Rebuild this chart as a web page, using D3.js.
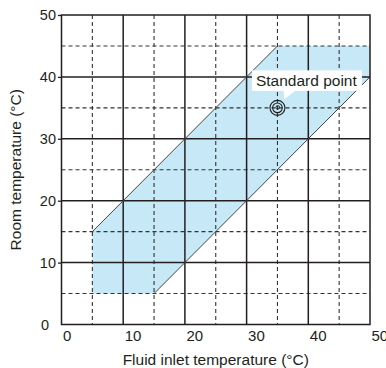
<!DOCTYPE html>
<html><head><meta charset="utf-8">
<script src="https://cdn.jsdelivr.net/npm/d3@7"></script>
<style>
html,body{margin:0;padding:0;background:#fff;}
svg{display:block;font-family:"Liberation Sans",Arial,sans-serif;}
</style></head>
<body>
<svg id="chart" width="386" height="368"></svg>
<script>
const xTicks = [0, 10, 20, 30, 40, 50];
const yTicks = [0, 10, 20, 30, 40, 50];
const minorTicks = [5, 15, 25, 35, 45];
const regionX = [5, 15, 50, 50, 35, 5];
const regionY = [5, 5, 40, 45, 45, 15];
const pointX = [35];
const pointY = [35];
const pointLabel = ["Standard point"];
const xTitle = "Fluid inlet temperature (\u00B0C)";
const yTitle = "Room temperature (\u00B0C)";

const svg = d3.select("#chart");
const L = 61.5, R = 370, T = 15, B = 324.5;
const x = d3.scaleLinear().domain([0, 50]).range([L, R]);
const y = d3.scaleLinear().domain([0, 50]).range([B, T]);
const ink = "#231f20";

// region fill
const pts = regionX.map((v, i) => [x(v), y(regionY[i])]);
svg.append("polygon").attr("points", pts.map(p => p.join(",")).join(" "))
  .attr("fill", "#c6e8f7").attr("stroke", "none");

// dashed grid
const g = svg.append("g");
minorTicks.forEach(t => {
  g.append("line").attr("x1", x(t)).attr("x2", x(t)).attr("y1", T).attr("y2", B)
    .attr("stroke", "#333").attr("stroke-width", 1.1).attr("stroke-dasharray", "4,3");
  g.append("line").attr("x1", L).attr("x2", R).attr("y1", y(t)).attr("y2", y(t))
    .attr("stroke", "#333").attr("stroke-width", 1.1).attr("stroke-dasharray", "4,3");
});
// solid grid
xTicks.filter(t => t > 0 && t < 50).forEach(t => {
  g.append("line").attr("x1", x(t)).attr("x2", x(t)).attr("y1", T).attr("y2", B)
    .attr("stroke", ink).attr("stroke-width", 1.5);
});
yTicks.filter(t => t > 0 && t < 50).forEach(t => {
  g.append("line").attr("x1", L).attr("x2", R).attr("y1", y(t)).attr("y2", y(t))
    .attr("stroke", ink).attr("stroke-width", 1.5);
});

// diagonal edges of region
for (let i = 0; i < regionX.length; i++) {
  const j = (i + 1) % regionX.length;
  if (regionX[i] !== regionX[j] && regionY[i] !== regionY[j]) {
    svg.append("line").attr("x1", x(regionX[i])).attr("y1", y(regionY[i]))
      .attr("x2", x(regionX[j])).attr("y2", y(regionY[j]))
      .attr("stroke", "#444").attr("stroke-width", 1);
  }
}

// border
svg.append("rect").attr("x", L).attr("y", T).attr("width", R - L).attr("height", B - T)
  .attr("fill", "none").attr("stroke", ink).attr("stroke-width", 1.5);

// axes
const yAxis = d3.axisLeft(y).tickValues(yTicks).tickSize(3.5).tickPadding(2).tickFormat(d3.format("d"));
const ya = svg.append("g").attr("transform", `translate(${L},0)`).call(yAxis);
ya.select(".domain").remove();
ya.selectAll(".tick line").attr("stroke", ink).attr("stroke-width", 1.3)
  .filter(d => d === 0).remove();
ya.selectAll(".tick text").attr("fill", ink).style("font-size", "14.5px")
  .attr("font-family", "Liberation Sans, Arial, sans-serif")
  .attr("dx", d => d === 0 ? -7 : 0);

const xAxis = d3.axisBottom(x).tickValues(xTicks).tickSize(0).tickPadding(0).tickFormat(d3.format("d"));
const xa = svg.append("g").attr("transform", `translate(0,${B})`).call(xAxis);
xa.select(".domain").remove();
xa.selectAll(".tick text").attr("fill", ink).style("font-size", "15px")
  .attr("font-family", "Liberation Sans, Arial, sans-serif")
  .attr("text-anchor", "start").attr("x", 1).attr("y", 16.3).attr("dy", 0);

// titles
svg.append("text").attr("x", (L + R) / 2).attr("y", 364.5).attr("text-anchor", "middle")
  .attr("fill", ink).style("font-size", "15.5px").text(xTitle);
svg.append("text").attr("transform", `translate(21,${(T + B) / 2}) rotate(-90)`)
  .attr("text-anchor", "middle").attr("fill", ink).style("font-size", "15.5px").text(yTitle);

// standard point
pointX.forEach((px, i) => {
  const cx = x(px), cy = y(pointY[i]);
  [7.5, 4.8].forEach(r => svg.append("circle").attr("cx", cx).attr("cy", cy).attr("r", r)
    .attr("fill", "none").attr("stroke", ink).attr("stroke-width", 1.1));
  svg.append("circle").attr("cx", cx + 0.3).attr("cy", cy - 0.5).attr("r", 1.8)
    .attr("fill", "none").attr("stroke", ink).attr("stroke-width", 0.9);
  // callout
  const bx = cx - 25.5, by = cy - 37.5, bw = 110, bh = 20.5;
  svg.append("polygon")
    .attr("points", `${cx + 6},${by + bh - 1} ${cx + 19},${by + bh - 1} ${cx + 7},${cy - 8.5}`)
    .attr("fill", "#fff");
  svg.append("rect").attr("x", bx).attr("y", by).attr("width", bw).attr("height", bh).attr("fill", "#fff");
  svg.append("text").attr("x", bx + 4).attr("y", by + 15.5).attr("fill", ink)
    .style("font-size", "15.5px").text(pointLabel[i]);
});
</script>
</body></html>
